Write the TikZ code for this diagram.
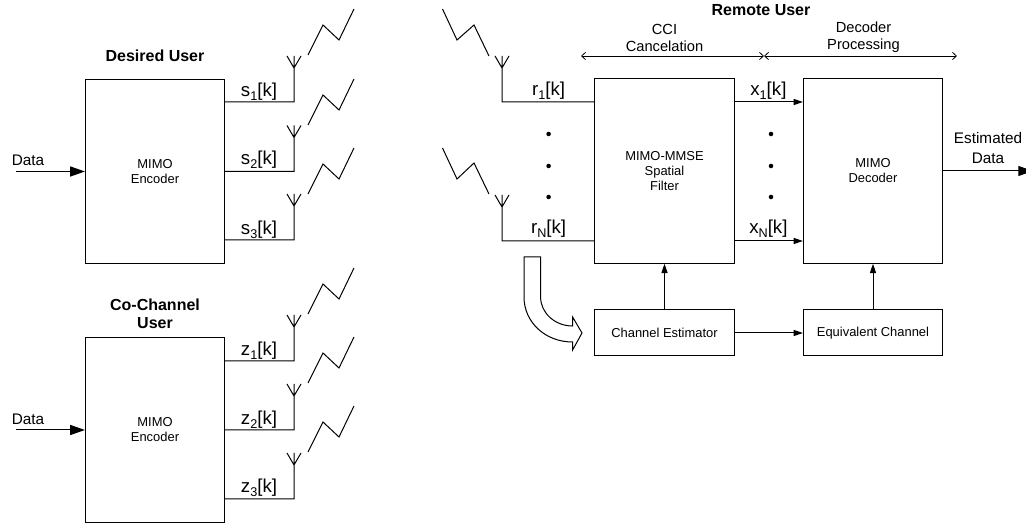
\documentclass[tikz,border=0pt]{standalone}
\usepackage{fontspec}
\setmainfont{Liberation Sans}
\usetikzlibrary{arrows.meta}
\newcommand{\sigidx}[1]{\raisebox{-2.6pt}{\fontsize{9.5}{11}\selectfont #1}}
\begin{document}
\begin{tikzpicture}[
  x=0.75pt, y=-0.75pt,
  wire/.style={line width=0.75pt},
  feed/.style={line width=0.75pt, -{Triangle[length=7pt,width=4.6pt]}},
  datain/.style={line width=0.75pt, -{Triangle[length=11pt,width=7.5pt]}},
  span/.style={line width=0.6pt, {Straight Barb[length=3pt,width=5.5pt]}-{Straight Barb[length=3pt,width=5.5pt]}},
  bigblock/.style={draw, line width=0.75pt, minimum width=104.4pt, minimum height=138.4pt, inner sep=0pt,
    align=center, font=\fontsize{9.7}{11.25}\selectfont},
  smallblock/.style={draw, line width=0.75pt, minimum width=104.4pt, minimum height=34.5pt, inner sep=0pt,
    align=center, font=\fontsize{9.7}{11.25}\selectfont},
  title/.style={font=\fontsize{12}{13.5}\selectfont\bfseries, align=center, inner sep=0pt},
  caption/.style={font=\fontsize{11}{12.8}\selectfont, align=center, inner sep=0pt},
  sig/.style={font=\fontsize{14}{16}\selectfont, inner sep=0pt},
  vdot/.style={circle, fill, inner sep=0pt, minimum size=3.4pt},
]
\useasboundingbox (0,0) rectangle (1026,523);

% ============================================================
% DESIRED USER (top-left)
% ============================================================
\node[title] (desired) at (155, 56) {Desired User};
\node[bigblock] (enca) at (155, 171.5) {MIMO\\Encoder};
\node[caption, font=\fontsize{11.5}{13}\selectfont] (dataa) at (28, 160) {Data};
\coordinate (ina) at (16, 171.5);
\draw[datain] (ina) -- (enca.west);

\coordinate (anta1) at (294, 102);
\coordinate (anta2) at (294, 171.5);
\coordinate (anta3) at (294, 240);
\draw[wire] (enca.east |- anta1) -- (anta1) -- ++(0,-46) ++(-7,0) -- ++(7,12) -- ++(7,-12);
\draw[wire] (enca.east |- anta2) -- (anta2) -- ++(0,-46) ++(-7,0) -- ++(7,12) -- ++(7,-12);
\draw[wire] (enca.east |- anta3) -- (anta3) -- ++(0,-46) ++(-7,0) -- ++(7,12) -- ++(7,-12);
\draw[wire] (308, 55) -- (323, 25) -- (339, 40) -- (354, 9);
\draw[wire] (308, 125) -- (323, 95) -- (339, 110) -- (354, 79);
\draw[wire] (308, 194) -- (323, 164) -- (339, 179) -- (354, 148);
\node[sig] (sa1) at (259, 92) {s\sigidx{1}[k]};
\node[sig] (sa2) at (259, 160) {s\sigidx{2}[k]};
\node[sig] (sa3) at (259, 230) {s\sigidx{3}[k]};

% ============================================================
% CO-CHANNEL USER (bottom-left)
% ============================================================
\node[title] (cochannel) at (155, 314) {Co-Channel\\User};
\node[bigblock] (encb) at (155, 430) {MIMO\\Encoder};
\node[caption, font=\fontsize{11.5}{13}\selectfont] (datab) at (28, 419) {Data};
\coordinate (inb) at (16, 430);
\draw[datain] (inb) -- (encb.west);

\coordinate (antb1) at (294, 361);
\coordinate (antb2) at (294, 430);
\coordinate (antb3) at (294, 499);
\draw[wire] (encb.east |- antb1) -- (antb1) -- ++(0,-46) ++(-7,0) -- ++(7,12) -- ++(7,-12);
\draw[wire] (encb.east |- antb2) -- (antb2) -- ++(0,-46) ++(-7,0) -- ++(7,12) -- ++(7,-12);
\draw[wire] (encb.east |- antb3) -- (antb3) -- ++(0,-46) ++(-7,0) -- ++(7,12) -- ++(7,-12);
\draw[wire] (308, 314) -- (323, 284) -- (339, 299) -- (354, 268);
\draw[wire] (308, 383) -- (323, 353) -- (339, 368) -- (354, 337);
\draw[wire] (308, 452) -- (323, 422) -- (339, 437) -- (354, 406);
\node[sig] (sb1) at (259, 351) {z\sigidx{1}[k]};
\node[sig] (sb2) at (259, 420) {z\sigidx{2}[k]};
\node[sig] (sb3) at (259, 488) {z\sigidx{3}[k]};

% ============================================================
% REMOTE USER (right)
% ============================================================
\node[title] (remote) at (761, 10) {Remote User};
\node[caption] (cci) at (664.5, 37.5) {CCI\\Cancelation};
\node[caption] (decproc) at (863.5, 37.5) {Decoder\\Processing};
\coordinate (spanl) at (581, 56);
\coordinate (spanm) at (764, 56);
\coordinate (spanr) at (957, 56);
\draw[span] (spanl) -- (spanm);
\draw[span] (spanm) -- (spanr);

\node[bigblock] (filter) at (664.5, 171) {MIMO-MMSE\\Spatial\\Filter};
\node[bigblock] (decoder) at (873, 171) {MIMO\\Decoder};
\node[smallblock] (chest) at (664.5, 333) {Channel Estimator};
\node[smallblock] (eqch) at (873, 333) {Equivalent Channel};

% receive antennas
\coordinate (antr1) at (502, 102);
\coordinate (antr2) at (502, 241);
\draw[wire] (filter.west |- antr1) -- (antr1) -- ++(0,-46) ++(-7,0) -- ++(7,12) -- ++(7,-12);
\draw[wire] (filter.west |- antr2) -- (antr2) -- ++(0,-46) ++(-7,0) -- ++(7,12) -- ++(7,-12);
\draw[wire] (442.5, 9) -- (457, 40) -- (474, 25) -- (489, 56);
\draw[wire] (442.5, 148) -- (457, 179) -- (474, 163) -- (489, 194);
\node[sig] (rs1) at (548.6, 91) {r\sigidx{1}[k]};
\node[sig] (rsn) at (548.6, 229) {r\sigidx{N}[k]};
\node[vdot] (rdot1) at (548.6, 134) {};
\node[vdot] (rdot2) at (548.6, 166) {};
\node[vdot] (rdot3) at (548.6, 197) {};

% filter to decoder
\draw[feed] (filter.east |- antr1) -- (decoder.west |- antr1);
\draw[feed] (filter.east |- antr2) -- (decoder.west |- antr2);
\node[sig] (xs1) at (768.4, 91) {x\sigidx{1}[k]};
\node[sig] (xsn) at (768.4, 229) {x\sigidx{N}[k]};
\node[vdot] (xdot1) at (771, 134) {};
\node[vdot] (xdot2) at (771, 166) {};
\node[vdot] (xdot3) at (771, 197) {};

% decoder output
\coordinate (outd) at (1033, 171);
\draw[datain] (decoder.east) -- (outd);
\node[caption, font=\fontsize{11.5}{15}\selectfont] (estdata) at (988, 148) {Estimated\\Data};

% estimator chain
\draw[feed] (chest.north) -- (filter.south);
\draw[feed] (eqch.north) -- (decoder.south);
\draw[feed] (chest.east) -- (eqch.west);

% block arrow
\draw[wire, fill=white] (524, 257) -- (540.6, 257) -- (540.6, 297)
  .. controls (540.6, 313) and (555, 326) .. (572.6, 326)
  -- (572.6, 317) -- (582, 333) -- (572.6, 350) -- (572.6, 342)
  .. controls (545, 342) and (524, 322) .. (524, 297) -- cycle;

\end{tikzpicture}
\end{document}
